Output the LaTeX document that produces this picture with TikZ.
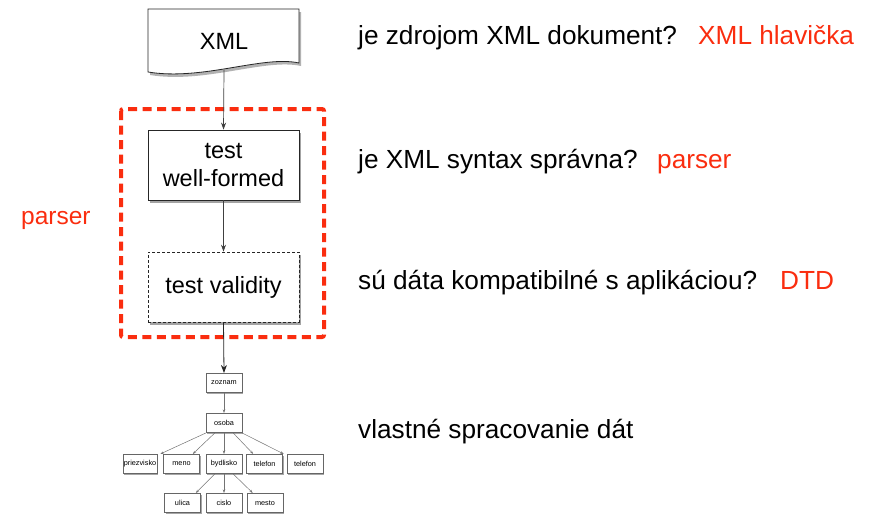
\documentclass[tikz,border=0pt]{standalone}
\usepackage{fontspec}
\setmainfont{Liberation Sans}
\usetikzlibrary{shadows,arrows.meta}
\definecolor{myred}{RGB}{250,45,15}
\begin{document}
\begin{tikzpicture}[x=1pt,y=-1pt,
  shad/.style={drop shadow={shadow xshift=2pt,shadow yshift=-3pt,opacity=0.45,fill=black!80}},
  bigbox/.style={draw=black!85,fill=white,line width=0.8pt,minimum width=151pt,minimum height=70pt,
    font=\fontsize{23.5}{27}\selectfont,align=center,inner sep=0pt,shad},
  tnode/.style={draw=black!60,fill=white,line width=0.6pt,minimum width=36pt,minimum height=19.5pt,
    font=\fontsize{7.3}{8}\selectfont,inner sep=0pt,
    drop shadow={shadow xshift=1pt,shadow yshift=-1.5pt,opacity=0.35,fill=black}},
  conn/.style={draw=black!75,line width=0.7pt,-{Stealth[length=7pt,width=5pt]}},
  tconn/.style={draw=black!55,line width=0.5pt,-{Stealth[length=3.5pt,width=2.5pt]}},
  q/.style={anchor=base west,inner sep=0pt,font=\fontsize{26.2}{30}\selectfont},
  rq/.style={q,text=myred}]
\useasboundingbox (0,0) rectangle (877,515);
% XML document shape
\path[fill=black,opacity=0.3] (150,12) -- (301,12) -- (301,66) .. controls (265,58) and (205,84) .. (150,75) -- cycle;
\draw[fill=white,draw=black!85,line width=0.8pt] (148,9) -- (299,9) -- (299,63) .. controls (263,55) and (203,81) .. (148,72) -- cycle;
\node[font=\fontsize{23.5}{27}\selectfont,inner sep=0pt] (xml) at (224,41) {XML};
\coordinate (xmlb) at (224,70);
% parser dashed frame
\draw[myred,line width=4pt,dash pattern=on 9pt off 5.5pt,rounded corners=2pt] (121,109) rectangle (324,337);
\node[bigbox] (wf) at (223.5,165) {test\\[1pt]well-formed};
\node[bigbox,dashed,dash pattern=on 3pt off 2pt,line width=0.7pt] (val) at (223.5,287) {test validity};
\draw[conn] (xmlb) -- (wf.north);
\draw[conn] (wf.south) -- (val.north);
% tree
\node[tnode] (zoz) at (224,383) {zoznam};
\node[tnode] (oso) at (224,423) {osoba};
\node[tnode,minimum width=34pt] (pri) at (140,464) {priezvisko};
\node[tnode] (men) at (181.5,464) {meno};
\node[tnode] (byd) at (224,464) {bydlisko};
\node[tnode] (tel1) at (264.5,464) {telefon};
\node[tnode] (tel2) at (305,464) {telefon};
\node[tnode] (uli) at (182.5,503) {ulica};
\node[tnode] (cis) at (224,503) {cislo};
\node[tnode] (mes) at (265,503) {mesto};
\draw[draw=black!85,line width=0.8pt,-{Stealth[length=8pt,width=6pt]}] (val.south) -- (zoz.north);
\draw[tconn] (zoz.south) -- (oso.north);
\draw[tconn] (oso.south west) -- ([xshift=3pt]pri.north east);
\draw[tconn] ([xshift=9pt]oso.south west) -- ([xshift=-7pt]men.north east);
\draw[tconn] (oso.south) -- (byd.north);
\draw[tconn] ([xshift=-9pt]oso.south east) -- ([xshift=7pt]tel1.north west);
\draw[tconn] (oso.south east) -- ([xshift=-3pt]tel2.north west);
\draw[tconn] ([xshift=9pt]byd.south west) -- ([xshift=-5pt]uli.north east);
\draw[tconn] (byd.south) -- (cis.north);
\draw[tconn] ([xshift=-9pt]byd.south east) -- ([xshift=6pt]mes.north west);
% texts
\node[q] (t1) at (358,44) {je zdrojom XML dokument?};
\node[rq] (r1) at (698,44) {XML hlavička};
\node[q] (t2) at (358,168) {je XML syntax správna?};
\node[rq] (r2) at (657,168) {parser};
\node[q] (t3) at (358,289) {sú dáta kompatibilné s aplikáciou?};
\node[rq] (r3) at (780,289) {DTD};
\node[q] (t4) at (358,438) {vlastné spracovanie dát};
\node[rq,font=\fontsize{24.5}{29}\selectfont] (pl) at (21,224) {parser};
\end{tikzpicture}
\end{document}
